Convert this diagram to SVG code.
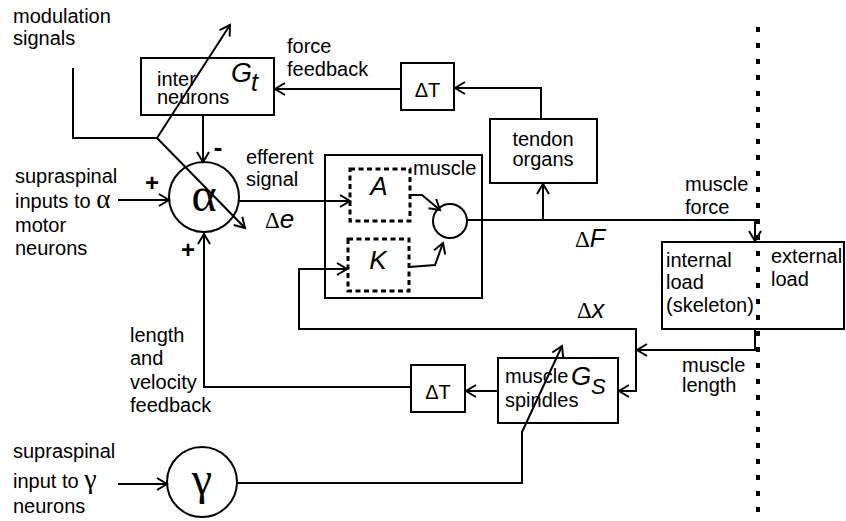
<svg xmlns="http://www.w3.org/2000/svg" width="846" height="521" viewBox="0 0 846 521">
<style>
text{font-family:"Liberation Sans",Arial,sans-serif;font-size:20px;fill:#000}
.it{font-style:italic}
.gr{font-family:"Liberation Serif","Times New Roman",serif}
.box{fill:#fff;stroke:#000;stroke-width:2}
.nb{fill:none;stroke:#000;stroke-width:2}
.dbox{fill:none;stroke:#000;stroke-width:3;stroke-dasharray:5 3.5}
.c{fill:none;stroke:#000;stroke-width:2}
.mid{text-anchor:middle}
.b{font-weight:bold}
.pl{font-weight:bold;font-size:24px;text-anchor:middle}
.dl{font-family:"Liberation Serif","Times New Roman",serif;font-size:23px}
</style>
<defs>
<marker id="ah" viewBox="0 0 10 12" refX="10" refY="6" markerWidth="10" markerHeight="12" markerUnits="userSpaceOnUse" orient="auto-start-reverse" overflow="visible">
<path d="M0,0 L10,6 L0,12" fill="none" stroke="#000" stroke-width="2"/>
</marker>
</defs>
<rect width="846" height="521" fill="#fff"/>

<g id="boundary">
<path d="M758,27 V521" stroke="#000" stroke-width="4" stroke-dasharray="5 11" fill="none"/>
</g>

<g id="interneurons">
<rect class="box" x="141" y="58" width="133" height="57"/>
<text x="157" y="86">inter</text>
<text x="157" y="104">neurons</text>
<text class="it" x="231" y="82" style="font-size:27px">G</text>
<text class="it" x="251" y="91" style="font-size:25px">t</text>
</g>

<g id="delayT1">
<rect class="box" x="401" y="63" width="53" height="47"/>
<text class="mid" x="427.5" y="97">ΔT</text>
</g>

<g id="tendon">
<rect class="box" x="490" y="119" width="107" height="64"/>
<text class="mid" x="543" y="146">tendon</text>
<text class="mid" x="543" y="166">organs</text>
</g>

<g id="alpha">
<circle class="c" cx="204" cy="197" r="35"/>
<text class="gr mid" x="204" y="211" style="font-size:48px">α</text>
</g>

<g id="muscle">
<rect class="box" x="325" y="155" width="157" height="143"/>
<text x="413" y="175">muscle</text>
</g>
<g id="A">
<rect class="dbox" x="350" y="169" width="60" height="52"/>
<text class="it mid" x="379" y="195" style="font-size:26px">A</text>
</g>
<g id="K">
<rect class="dbox" x="348" y="239" width="61" height="52"/>
<text class="it mid" x="378" y="269" style="font-size:26px">K</text>
</g>
<g id="sum">
<circle class="c" cx="450" cy="221" r="17"/>
</g>

<g id="load">
<rect class="nb" x="662" y="242" width="182" height="87"/>
<text x="666" y="267">internal</text>
<text x="666" y="289">load</text>
<text x="666" y="312">(skeleton)</text>
<text x="771" y="263">external</text>
<text x="771" y="286">load</text>
</g>

<g id="spindles">
<rect class="nb" x="498" y="358" width="120" height="65"/>
<text x="505" y="383">muscle</text>
<text x="505" y="407">spindles</text>
<text class="it" x="571" y="385" style="font-size:26px">G</text>
<text class="it" x="591" y="394" style="font-size:22px">S</text>
</g>

<g id="delayT2">
<rect class="box" x="411" y="365" width="54" height="47"/>
<text class="mid" x="438" y="399">ΔT</text>
</g>

<g id="gamma">
<circle class="c" cx="202" cy="482" r="35"/>
<text class="gr mid" x="202" y="494" style="font-size:46px">γ</text>
</g>

<g id="connectors" fill="none" stroke="#000" stroke-width="2">
<path d="M73,68 V138 H157 L230,25" marker-end="url(#ah)"/>
<path d="M157,138 L245,228" marker-end="url(#ah)"/>
<path d="M203,115 V162" marker-end="url(#ah)"/>
<path d="M118,200 H169" marker-end="url(#ah)"/>
<path d="M239,201 H350" marker-end="url(#ah)"/>
<path d="M410,195 H422 L440,210" marker-end="url(#ah)"/>
<path d="M409,267 L435,265 L443,243" marker-end="url(#ah)"/>
<path d="M467,220 H755 V241" marker-end="url(#ah)"/>
<path d="M543,220 V184" marker-end="url(#ah)"/>
<path d="M541,119 V88 H455" marker-end="url(#ah)"/>
<path d="M401,89 H275" marker-end="url(#ah)"/>
<path d="M755,329 V350 H637" marker-end="url(#ah)"/>
<path d="M619,391 H636 V329 H299 V269 H347" marker-start="url(#ah)" marker-end="url(#ah)"/>
<path d="M497,391 H466" marker-end="url(#ah)"/>
<path d="M411,387 H204 V234" marker-end="url(#ah)"/>
<path d="M118,484 H167" marker-end="url(#ah)"/>
<path d="M237,483 H522 V432 L562,346" marker-end="url(#ah)"/>
</g>

<g id="labels">
<text x="13" y="23">modulation</text>
<text x="13" y="45">signals</text>
<text x="287" y="53">force</text>
<text x="287" y="76">feedback</text>
<text class="b mid" x="218" y="156" style="font-size:26px">-</text>
<text x="246" y="164">efferent</text>
<text x="246" y="186">signal</text>
<text x="265" y="228"><tspan class="dl">Δ</tspan><tspan class="it" style="font-size:26px">e</tspan></text>
<text x="15" y="183">supraspinal</text>
<text x="15" y="208">inputs to <tspan class="gr" style="font-size:27px">α</tspan></text>
<text x="15" y="232">motor</text>
<text x="15" y="255">neurons</text>
<text class="pl" x="152" y="191">+</text>
<text class="pl" x="188" y="258">+</text>
<text x="685" y="191">muscle</text>
<text x="685" y="214">force</text>
<text x="575" y="247"><tspan class="dl">Δ</tspan><tspan class="it" style="font-size:25px">F</tspan></text>
<text x="577" y="318"><tspan class="dl">Δ</tspan><tspan class="it" style="font-size:25px">x</tspan></text>
<text x="682" y="372">muscle</text>
<text x="682" y="392">length</text>
<text x="130" y="342">length</text>
<text x="130" y="365">and</text>
<text x="130" y="389">velocity</text>
<text x="130" y="412">feedback</text>
<text x="13" y="458">supraspinal</text>
<text x="13" y="488">input to <tspan class="gr" style="font-size:28px">γ</tspan></text>
<text x="13" y="513">neurons</text>
</g>
</svg>
